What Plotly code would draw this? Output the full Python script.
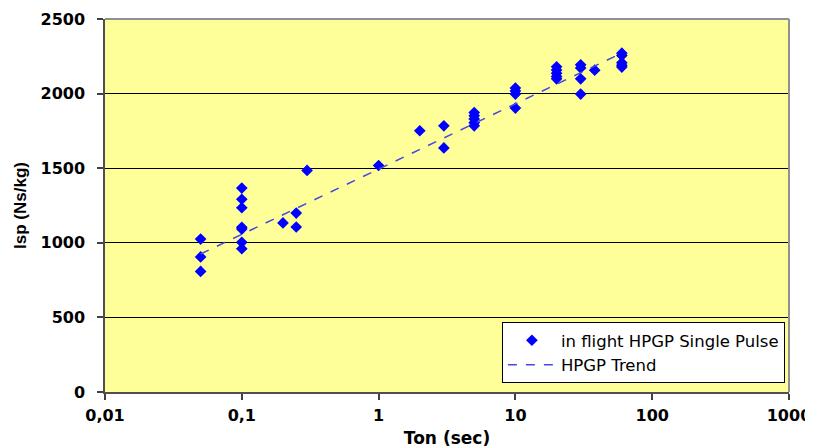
import plotly.graph_objects as go

ton_sec = [0.05, 0.05, 0.05,
           0.1, 0.1, 0.1, 0.1, 0.1, 0.1, 0.1,
           0.2, 0.25, 0.25, 0.3,
           1, 2, 3, 3,
           5, 5, 5, 5, 5,
           10, 10, 10, 10,
           20, 20, 20, 20, 20,
           30, 30, 30, 30,
           38,
           60, 60, 60, 60, 60]
isp = [1025, 905, 808,
       1367, 1292, 1235, 1104, 1092, 1003, 960,
       1133, 1199, 1106, 1485,
       1518, 1751, 1784, 1636,
       1873, 1852, 1830, 1805, 1784,
       2037, 2017, 1997, 1903,
       2180, 2158, 2137, 2115, 2099,
       2193, 2172, 2099, 1997,
       2157,
       2271, 2255, 2207, 2190, 2178]

trend_x = [0.05, 57]
trend_y = [925, 2262]

x_tickvals = [0.01, 0.1, 1, 10, 100, 1000]
x_ticktext = ["0,01", "0,1", "1", "10", "100", "1000"]
y_tickvals = [0, 500, 1000, 1500, 2000, 2500]

TICKFONT = dict(family="DejaVu Sans", size=16, color="black", weight="bold")

fig = go.Figure()
fig.add_trace(go.Scatter(
    x=ton_sec, y=isp, mode="markers", name="in flight HPGP Single Pulse",
    marker=dict(symbol="diamond", size=9, color="#0000FF", line=dict(width=0)),
))
fig.add_trace(go.Scatter(
    x=trend_x, y=trend_y, mode="lines", name="HPGP Trend",
    line=dict(color="#4848E0", width=1.5, dash="dash"),
))

fig.update_layout(
    width=813, height=448,
    margin=dict(l=97, r=32, t=11, b=64, autoexpand=False),
    paper_bgcolor="white",
    plot_bgcolor="#FFFF99",
    font=dict(family="DejaVu Sans", size=16, color="black"),
    showlegend=True,
    legend=dict(
        x=0.994, y=0.024, xanchor="right", yanchor="bottom",
        bgcolor="white", bordercolor="black", borderwidth=1,
        font=dict(family="DejaVu Sans", size=16.5, color="black"),
        itemwidth=48,
    ),
)
fig.update_xaxes(
    type="log", range=[-2, 3],
    tickvals=x_tickvals, ticktext=x_ticktext,
    tickfont=TICKFONT, ticklabeloverflow="allow",
    ticks="outside", ticklen=6, tickcolor="#404040", tickwidth=1.5,
    ticklabelstandoff=2,
    showgrid=False, zeroline=False,
    showline=True, linecolor="#505050", linewidth=1.5, mirror=False,
    title=dict(text="<b>Ton (sec)</b>",
               font=dict(family="DejaVu Sans", size=17, color="black"), standoff=8),
)
fig.update_yaxes(
    range=[0, 2500], tickvals=y_tickvals,
    tickfont=TICKFONT, ticklabeloverflow="allow",
    ticks="outside", ticklen=6, tickcolor="#404040", tickwidth=1.5,
    ticklabelstandoff=9,
    showgrid=True, gridcolor="black", gridwidth=1, zeroline=False,
    showline=True, linecolor="#505050", linewidth=1.5, mirror=False,
    title=dict(text="<b>Isp (Ns/kg)</b>",
               font=dict(family="Liberation Sans", size=17, color="black"), standoff=10),
)
# grey frame on right and top of plot area
fig.add_shape(type="line", xref="paper", yref="paper", x0=1, x1=1, y0=0, y1=1,
              line=dict(color="#909090", width=2))
fig.add_shape(type="line", xref="paper", yref="paper", x0=0, x1=1, y0=1, y1=1,
              line=dict(color="#909090", width=2))

fig.write_html("out.html")
